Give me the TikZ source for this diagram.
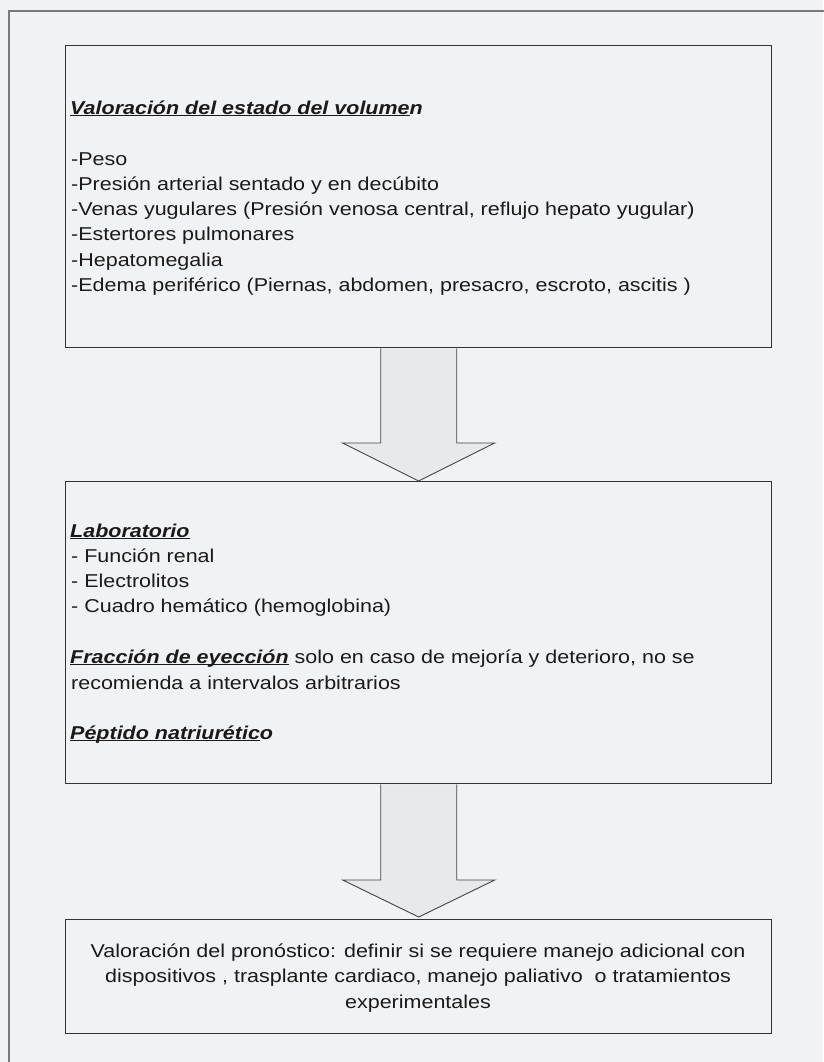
\documentclass[tikz,border=0pt]{standalone}
\usepackage{fontspec}
\setmainfont[FakeStretch=1.155]{Liberation Sans}
\usetikzlibrary{calc}
\definecolor{bgc}{HTML}{F1F2F4}
\definecolor{framec}{HTML}{7A7A7A}
\definecolor{boxc}{HTML}{333333}
\definecolor{arrc}{HTML}{444444}
\definecolor{arrf}{HTML}{E8E9EB}
\definecolor{txtc}{HTML}{1A1A1A}
\newcommand\ulfix[1]{\setbox0\hbox{#1}\rlap{\rule[-2.4pt]{\wd0}{1.3pt}}\box0{}}
\newcommand\bi[1]{\textbf{\textit{#1}}}
\tikzset{
  boxnode/.style={draw=boxc, line width=1.4pt, fill=bgc, anchor=north west, inner sep=0pt, minimum width=706pt},
  txt/.style={anchor=base west, inner sep=0pt, text=txtc, font=\fontsize{18.6}{25.3}\selectfont},
  ctxt/.style={anchor=base, inner sep=0pt, text=txtc, font=\fontsize{18.6}{25.3}\selectfont},
  blockarrow/.style={draw=arrc, line width=0.9pt, fill=arrf, line join=miter}
}
\begin{document}
\begin{tikzpicture}[x=1pt, y=-1pt]
\useasboundingbox (0,0) rectangle (823,1062);
\fill[bgc] (0,0) rectangle (823,1062);
\draw[framec, line width=2pt] (9,1063) -- (9,11) -- (824,11);

\node[boxnode, minimum height=302pt] (b1) at (65,45) {};
\node[boxnode, minimum height=302pt] (b2) at (65,481) {};
\node[boxnode, minimum height=114pt] (b3) at (65,919) {};

% block arrows
\draw[blockarrow]
  ($(b1.south)+(-38pt,0)$) -- ($(b2.north)+(-38pt,38pt)$) -- ($(b2.north)+(-76pt,38pt)$)
  -- (b2.north) -- ($(b2.north)+(76pt,38pt)$) -- ($(b2.north)+(38pt,38pt)$)
  -- ($(b1.south)+(38pt,0)$);
\draw[blockarrow]
  ($(b2.south)+(-38pt,0)$) -- ($(b3.north)+(-38pt,39pt)$) -- ($(b3.north)+(-76pt,39pt)$)
  -- ($(b3.north)+(0,2pt)$) -- ($(b3.north)+(76pt,39pt)$) -- ($(b3.north)+(38pt,39pt)$)
  -- ($(b2.south)+(38pt,0)$);

% box 1 text
\node[txt] (t1) at (70,114) {\ulfix{\bi{Valoración del estado del volume}}\bi{n}};
\node[txt] (t2) at (71,165) {-Peso};
\node[txt] (t3) at (71,190) {-Presión arterial sentado y en decúbito};
\node[txt] (t4) at (71,215) {-Venas yugulares (Presión venosa central, reflujo hepato yugular)};
\node[txt] (t5) at (71,240) {-Estertores pulmonares};
\node[txt] (t6) at (71,266) {-Hepatomegalia};
\node[txt] (t7) at (71,291) {-Edema periférico (Piernas, abdomen, presacro, escroto, ascitis )};

% box 2 text
\node[txt] (u1) at (70,537) {\ulfix{\bi{Laboratorio}}};
\node[txt] (u2) at (71,562) {- Función renal};
\node[txt] (u3) at (71,587) {- Electrolitos};
\node[txt] (u4) at (71,612) {- Cuadro hemático (hemoglobina)};
\node[txt] (u5) at (70,663) {\ulfix{\bi{Fracción de eyección}} solo en caso de mejoría y deterioro, no se};
\node[txt] (u6) at (71,689) {recomienda a intervalos arbitrarios};
\node[txt] (u7) at (70,739) {\ulfix{\bi{Péptido natriurétic}}\bi{o}};

% box 3 text
\node[ctxt] (v1) at (418,957) {Valoración del pronóstico: definir si se requiere manejo adicional con};
\node[ctxt] (v2) at (418,982) {dispositivos , trasplante cardiaco, manejo paliativo \ o tratamientos};
\node[ctxt] (v3) at (418,1008) {experimentales};
\end{tikzpicture}
\end{document}
